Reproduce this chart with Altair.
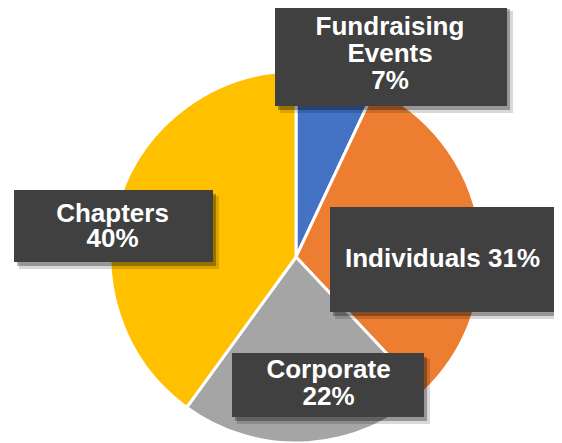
import altair as alt
import pandas as pd

# Data
categories = ["Fundraising Events", "Individuals", "Corporate", "Chapters"]
values = [7, 31, 22, 40]
colors = ["#4472C4", "#ED7D31", "#A5A5A5", "#FFC000"]
labels = ["Fundraising\nEvents\n7%", "Individuals 31%", "Corporate\n22%", "Chapters\n40%"]

# Layout of label boxes (pixel positions in chart coordinates)
box_x = [267, 322, 224, 6]
box_x2 = [499, 547, 416, 205]
box_y = [-3, 199, 345, 182]
box_y2 = [98, 304, 409, 254]
text_x = [382, 434.5, 320.5, 104.5]
first_baseline = [27, 259, 370, 214]
line_gap = [27, 27, 27, 25]

pie_df = pd.DataFrame({"category": categories, "value": values, "order": list(range(len(values)))})

lay = pd.DataFrame({
    "category": categories,
    "x": box_x, "x2": box_x2, "y": box_y, "y2": box_y2,
})
lay["sx"] = lay["x"] + 3
lay["sx2"] = lay["x2"] + 3
lay["sy"] = lay["y"] + 4
lay["sy2"] = lay["y2"] + 4
lay["sx_b"] = lay["x"] + 5
lay["sx2_b"] = lay["x2"] + 6
lay["sy_b"] = lay["y"] + 6
lay["sy2_b"] = lay["y2"] + 7

rows = []
for i, lab in enumerate(labels):
    for j, line in enumerate(lab.split("\n")):
        rows.append({"line": line, "tx": text_x[i], "ty": first_baseline[i] + j * line_gap[i]})
lines_df = pd.DataFrame(rows)

pie = alt.Chart(pie_df).mark_arc(outerRadius=186, stroke="white", strokeWidth=3).encode(
    theta=alt.Theta("value:Q", stack=True),
    order=alt.Order("order:Q"),
    color=alt.Color("category:N", scale=alt.Scale(domain=categories, range=colors), legend=None),
    x=alt.value(288),
    y=alt.value(249),
)

def px(field):
    return alt.X(field, type="quantitative", scale=None, axis=None)

def py(field):
    return alt.Y(field, type="quantitative", scale=None, axis=None)

base = alt.Chart(lay)

shadow2 = base.mark_rect(color="black", opacity=0.15).encode(
    x=px("sx_b"), x2=alt.X2("sx2_b"), y=py("sy_b"), y2=alt.Y2("sy2_b"))
shadow1 = base.mark_rect(color="black", opacity=0.3).encode(
    x=px("sx"), x2=alt.X2("sx2"), y=py("sy"), y2=alt.Y2("sy2"))
boxes = base.mark_rect(color="#404040").encode(
    x=px("x"), x2=alt.X2("x2"), y=py("y"), y2=alt.Y2("y2"))
texts = alt.Chart(lines_df).mark_text(
    color="white", font="Liberation Sans", fontWeight="bold", fontSize=26,
    align="center", baseline="alphabetic",
).encode(x=px("tx"), y=py("ty"), text="line:N")

chart = alt.layer(pie, shadow2, shadow1, boxes, texts).properties(
    width=546, height=440, padding=0, autosize=alt.AutoSizeParams(type="none"),
).configure_view(stroke=None)

chart.save("out.html", embed_options={"renderer": "svg", "actions": False})
